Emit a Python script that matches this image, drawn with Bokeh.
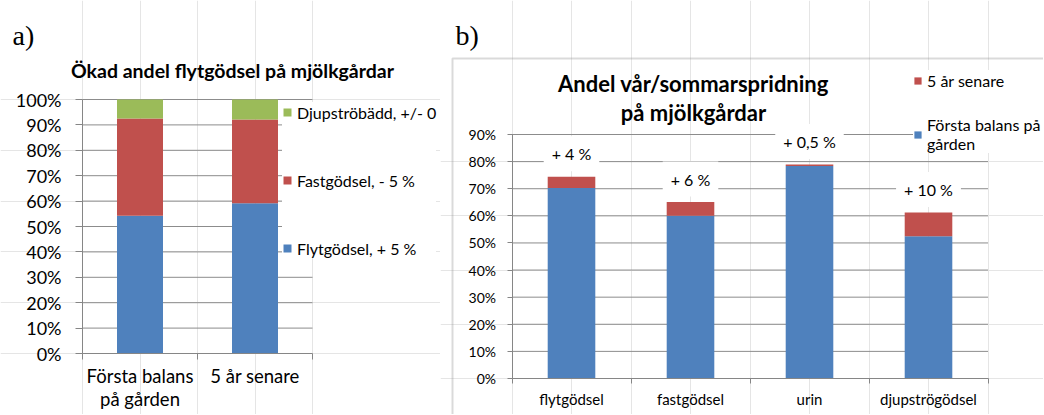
from bokeh.plotting import figure
from bokeh.layouts import row
from bokeh.models import (Range1d, FixedTicker, NumeralTickFormatter, Legend, LegendItem,
                          Label, BoxAnnotation, ColumnDataSource, LinearAxis)
from bokeh.embed import file_html
from bokeh.resources import INLINE

# ---------------- data: chart a ----------------
a_categories = ["Första balans\npå gården", "5 år senare"]
a_flyt = [0.542, 0.592]
a_fast = [0.383, 0.329]
a_djup = [0.075, 0.079]
a_series = ["Flytgödsel, + 5 %", "Fastgödsel, - 5 %", "Djupströbädd, +/- 0"]
a_title = "Ökad andel flytgödsel på mjölkgårdar"
a_ticks = [0.0, 0.1, 0.2, 0.3, 0.4, 0.5, 0.6, 0.7, 0.8, 0.9, 1.0]

# ---------------- data: chart b ----------------
b_categories = ["flytgödsel", "fastgödsel", "urin", "djupströgödsel"]
b_first = [0.703, 0.600, 0.784, 0.525]
b_later = [0.744, 0.651, 0.789, 0.612]
b_change = ["+ 4 %", "+ 6 %", "+ 0,5 %", "+ 10 %"]
b_series = ["5 år senare", "Första balans på\ngården"]
b_title = ["Andel vår/sommarspridning", "på mjölkgårdar"]
b_ticks = [0.0, 0.1, 0.2, 0.3, 0.4, 0.5, 0.6, 0.7, 0.8, 0.9]

BLUE = "#4F81BD"
RED = "#C0504D"
GREEN = "#9BBB59"
AXIS = "#868686"
GRID = "#8c8c8c"
FONT = "Lato"
TXT = "#000000"
H = 414


def make_fig(width, x0_px, x_unit_px, y0_px, y_unit_px):
    # the frame covers the whole canvas; ranges chosen so that data 0 sits at (x0_px, y0_px)
    xr = Range1d(-x0_px / x_unit_px, (width - x0_px) / x_unit_px)
    yr = Range1d((y0_px - H) / y_unit_px, y0_px / y_unit_px)
    p = figure(width=width, height=H, x_range=xr, y_range=yr, output_backend="svg",
               toolbar_location=None, x_axis_location=None, y_axis_location=None,
               min_border=0)
    p.outline_line_color = None
    p.background_fill_color = "white"
    p.border_fill_color = "white"
    return p


def add_axes(p, n, cats, ticks, ylab_size, xlab_size, ystand, xstand, ytick_out, xtick_out,
             line_height=1.2):
    yax = LinearAxis(fixed_location=0, bounds=(0, ticks[-1]),
                     ticker=FixedTicker(ticks=ticks),
                     formatter=NumeralTickFormatter(format="0%"))
    yax.axis_line_color = AXIS
    yax.major_tick_line_color = AXIS
    yax.major_tick_out = ytick_out
    yax.major_tick_in = 0
    yax.minor_tick_line_color = None
    yax.major_label_text_font = FONT
    yax.major_label_text_font_size = ylab_size
    yax.major_label_text_color = TXT
    yax.major_label_standoff = ystand
    p.add_layout(yax, "left")

    pos = [i + 0.5 for i in range(n)]
    xax = LinearAxis(fixed_location=0, bounds=(0, n),
                     ticker=FixedTicker(ticks=pos, minor_ticks=list(range(n + 1))))
    xax.major_label_overrides = {pos[i]: cats[i] for i in range(n)}
    xax.axis_line_color = AXIS
    xax.major_tick_line_color = None
    xax.major_tick_out = 0
    xax.major_tick_in = 0
    xax.minor_tick_line_color = AXIS
    xax.minor_tick_out = xtick_out
    xax.minor_tick_in = 0
    xax.major_label_text_font = FONT
    xax.major_label_text_font_size = xlab_size
    xax.major_label_text_color = TXT
    xax.major_label_text_line_height = line_height
    xax.major_label_standoff = xstand
    p.add_layout(xax, "below")


def add_grid(p, n, ticks):
    p.segment(x0=[0] * len(ticks), x1=[n] * len(ticks), y0=ticks, y1=ticks,
              line_color=GRID, line_width=1)


# ================= chart a =================
na = len(a_categories)
ax_pos = [i + 0.5 for i in range(na)]
p1 = make_fig(440, 82, 115, 353, 254)
add_grid(p1, na, a_ticks[1:])
src_a = ColumnDataSource(dict(x=ax_pos, flyt=a_flyt, fast=a_fast, djup=a_djup))
rs = p1.vbar_stack(["flyt", "fast", "djup"], x="x", width=0.4, source=src_a,
                   color=[BLUE, RED, GREEN], line_color=None)
add_axes(p1, na, a_categories, a_ticks, "18px", "18.5px", 14, 5, 7, 6, line_height=1.05)

leg_a = Legend(items=[LegendItem(label=a_series[i], renderers=[rs[i]]) for i in (2, 1, 0)],
               location=(282, 156), glyph_width=10, glyph_height=10, label_height=20,
               spacing=48, padding=7, margin=0, label_standoff=5,
               border_line_color=None, background_fill_color="white", background_fill_alpha=1,
               label_text_font=FONT, label_text_font_size="16px", label_text_color=TXT)
p1.add_layout(leg_a)

p1.add_layout(Label(x=232, y=H - 70, x_units="screen", y_units="screen", text=a_title,
                    text_align="center", text_baseline="middle", text_font=FONT,
                    text_font_size="19.5px", text_font_style="bold", text_color=TXT))
p1.add_layout(Label(x=12, y=H - 35, x_units="screen", y_units="screen", text="a)",
                    text_align="left", text_baseline="alphabetic", text_font="Liberation Serif",
                    text_font_size="28px", text_color=TXT))

# ================= chart b =================
nb = len(b_categories)
bx_pos = [i + 0.5 for i in range(nb)]
p2 = make_fig(603, 71.5, 119, 378, 244 / 0.9)
p2.add_layout(BoxAnnotation(left=12, right=2000, top=H - 58, bottom=-1000,
                            left_units="screen", right_units="screen",
                            top_units="screen", bottom_units="screen",
                            fill_alpha=0, line_color=AXIS, line_width=2, level="underlay"))
add_grid(p2, nb, b_ticks[1:])
src_b = ColumnDataSource(dict(x=bx_pos, first=b_first, later=b_later))
r_first = p2.vbar(x="x", width=0.4, bottom=0, top="first", source=src_b,
                  color=BLUE, line_color=None)
r_later = p2.vbar(x="x", width=0.4, bottom="first", top="later", source=src_b,
                  color=RED, line_color=None)
add_axes(p2, nb, b_categories, b_ticks, "14px", "15px", 11, 6, 5, 5)

for i in range(nb):
    p2.add_layout(Label(x=bx_pos[i], y=b_later[i], y_offset=23, text=b_change[i],
                        text_align="center", text_baseline="middle", text_font=FONT,
                        text_font_size="16px", text_color=TXT,
                        background_fill_color="white", background_fill_alpha=1, padding=8))

leg_b = Legend(items=[LegendItem(label=b_series[0], renderers=[r_later]),
                      LegendItem(label=b_series[1], renderers=[r_first])],
               location=(473, 261), glyph_width=9, glyph_height=9, label_height=20,
               spacing=25, padding=3, margin=0, label_standoff=5,
               border_line_color=None, background_fill_color="white", background_fill_alpha=1,
               label_text_font=FONT, label_text_font_size="16px", label_text_color=TXT)
p2.add_layout(leg_b)

p2.add_layout(Label(x=253, y=H - 83, x_units="screen", y_units="screen", text=b_title[0],
                    text_align="center", text_baseline="middle", text_font=FONT,
                    text_font_size="22px", text_font_style="bold", text_color=TXT))
p2.add_layout(Label(x=253, y=H - 111.5, x_units="screen", y_units="screen", text=b_title[1],
                    text_align="center", text_baseline="middle", text_font=FONT,
                    text_font_size="22px", text_font_style="bold", text_color=TXT))
p2.add_layout(Label(x=15, y=H - 35, x_units="screen", y_units="screen", text="b)",
                    text_align="left", text_baseline="alphabetic", text_font="Liberation Serif",
                    text_font_size="28px", text_color=TXT))

layout = row(p1, p2)
open("out.html", "w").write(file_html(layout, INLINE))
